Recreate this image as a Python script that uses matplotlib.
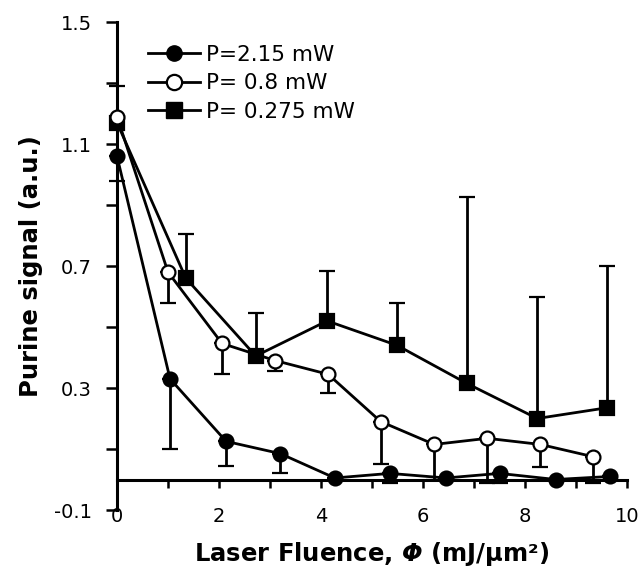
import matplotlib
matplotlib.use("Agg")
import matplotlib.pyplot as plt
from matplotlib.ticker import FixedLocator
from matplotlib.lines import Line2D

plt.rcParams['font.family'] = ['DejaVu Sans']
plt.rcParams['mathtext.fontset'] = 'custom'
plt.rcParams['mathtext.bf'] = 'DejaVu Sans:italic:bold'
plt.rcParams['mathtext.rm'] = 'DejaVu Sans:bold'

# Data
x_high = [0.0, 1.04, 2.14, 3.2, 4.27, 5.35, 6.45, 7.5, 8.6, 9.67]
y_high = [1.06, 0.33, 0.125, 0.085, 0.005, 0.02, 0.005, 0.02, 0.0, 0.01]
err_high_lo = [0.08, 0.23, 0.08, 0.065, 0.0, 0.03, 0.0, 0.03, 0.0, 0.0]
err_high_hi = [0.0] * 10

x_mid = [0.0, 1.0, 2.06, 3.1, 4.14, 5.17, 6.22, 7.26, 8.3, 9.33]
y_mid = [1.19, 0.68, 0.446, 0.39, 0.345, 0.19, 0.115, 0.135, 0.115, 0.075]
err_mid_lo = [0.0, 0.10, 0.10, 0.035, 0.06, 0.14, 0.115, 0.145, 0.075, 0.085]
err_mid_hi = [0.0] * 10

x_low = [0.0, 1.35, 2.72, 4.12, 5.49, 6.86, 8.24, 9.6]
y_low = [1.17, 0.66, 0.405, 0.52, 0.44, 0.315, 0.2, 0.235]
err_low_lo = [0.0] * 8
err_low_hi = [0.12, 0.145, 0.14, 0.165, 0.14, 0.61, 0.4, 0.465]

labels = ["P=2.15 mW", "P= 0.8 mW", "P= 0.275 mW"]
y_major = [-0.1, 0.3, 0.7, 1.1, 1.5]
y_minor = [0.1, 0.5, 0.9, 1.3]
x_major = [0, 2, 4, 6, 8, 10]
x_minor = [1, 3, 5, 7, 9]

fig = plt.figure(figsize=(6.42, 5.76), dpi=100)
ax = fig.add_axes([117/642, 1 - 510/576, 510/642, 488/576])

LW = 2.0
common = dict(color='black', lw=LW, ms=10, capsize=5.5, elinewidth=LW,
              capthick=LW, clip_on=False, markeredgewidth=1.6)

e3 = ax.errorbar(x_low, y_low, yerr=[err_low_lo, err_low_hi], fmt='-s',
                 mfc='black', mec='black', zorder=3, **common)
e2 = ax.errorbar(x_mid, y_mid, yerr=[err_mid_lo, err_mid_hi], fmt='-o',
                 mfc='white', mec='black', zorder=4, **common)
e1 = ax.errorbar(x_high, y_high, yerr=[err_high_lo, err_high_hi], fmt='-o',
                 mfc='black', mec='black', zorder=5, **common)
for e in (e1, e2, e3):
    for c in e[1]:
        c.set_clip_on(False)
    for c in e[2]:
        c.set_clip_on(False)

ax.set_xlim(0, 10)
ax.set_ylim(-0.1, 1.5)

ax.spines['top'].set_visible(False)
ax.spines['right'].set_visible(False)
ax.spines['bottom'].set_position(('data', 0))
ax.spines['left'].set_linewidth(2.2)
ax.spines['bottom'].set_linewidth(2.2)

ax.yaxis.set_major_locator(FixedLocator(y_major))
ax.yaxis.set_minor_locator(FixedLocator(y_minor))
ax.xaxis.set_major_locator(FixedLocator(x_major))
ax.xaxis.set_minor_locator(FixedLocator(x_minor))
ax.set_yticklabels([f"{v:.1f}" for v in y_major])
ax.set_xticklabels([str(v) for v in x_major])

ax.tick_params(axis='y', which='both', direction='out', length=8, width=1.8,
               labelsize=14, pad=10)
ax.tick_params(axis='x', which='both', direction='out', length=6, width=1.8,
               labelsize=14, pad=14)

ax.set_ylabel("Purine signal (a.u.)", fontsize=17.5, fontweight='bold', labelpad=8)
ax.set_xlabel("Laser Fluence, $\\mathbf{\\Phi}$ (mJ/μm²)",
              fontsize=17.5, fontweight='bold', labelpad=10)

h_high = Line2D([], [], color='black', lw=LW, marker='o', ms=11, mfc='black', mec='black')
h_mid = Line2D([], [], color='black', lw=LW, marker='o', ms=11, mfc='white', mec='black', mew=1.6)
h_low = Line2D([], [], color='black', lw=LW, marker='s', ms=11, mfc='black', mec='black')

leg = ax.legend([h_high, h_mid, h_low], labels, loc='upper left',
                bbox_to_anchor=((148-117)/510, (510-45)/488),
                frameon=False, fontsize=15.5, handlelength=2.4,
                handletextpad=0.3, labelspacing=0.39, borderpad=0,
                borderaxespad=0)

fig.savefig("out.png", dpi=100)
